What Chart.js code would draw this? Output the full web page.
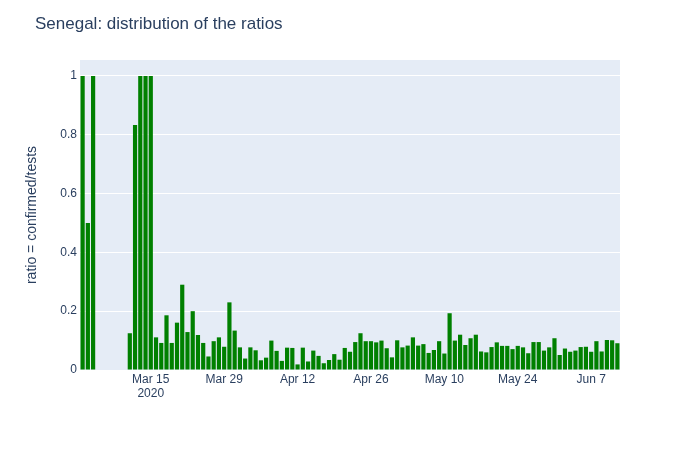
<!DOCTYPE html>
<html>
<head>
<meta charset="utf-8">
<script src="https://cdn.jsdelivr.net/npm/chart.js@4/dist/chart.umd.min.js"></script>
<style>
  html, body { margin: 0; padding: 0; background: #fff; }
  #wrap { width: 700px; height: 450px; }
</style>
</head>
<body>
<div id="wrap"><canvas id="ratioChart" width="700" height="450"></canvas></div>
<script>
// daily ratio confirmed/tests, Mar 2 .. Jun 12 2020 (null = no bar)
const startDate = "2020-03-02";
const marchRatios = [1, 0.5, 1, null, null, null, null, null, null,
  0.125, 0.833, 1, 1, 1,
  0.111, 0.092, 0.186, 0.092, 0.161, 0.29, 0.129, 0.2, 0.119, 0.092, 0.046, 0.098, 0.111, 0.079, 0.23, 0.134];
const aprilRatios = [0.077, 0.039, 0.077, 0.067, 0.033, 0.042, 0.1, 0.065, 0.031, 0.076,
  0.075, 0.019, 0.076, 0.029, 0.066, 0.048, 0.023, 0.034, 0.054, 0.035,
  0.075, 0.062, 0.095, 0.125, 0.098, 0.098, 0.094, 0.1, 0.074, 0.043];
const mayRatios = [0.101, 0.077, 0.083, 0.111, 0.083, 0.088, 0.058, 0.068, 0.098, 0.056,
  0.193, 0.1, 0.12, 0.085, 0.108, 0.12, 0.063, 0.06, 0.078, 0.094,
  0.082, 0.082, 0.071, 0.082, 0.077, 0.057, 0.095, 0.095, 0.066, 0.077, 0.108];
const juneRatios = [0.051, 0.073, 0.062, 0.066, 0.078, 0.079, 0.062, 0.098, 0.063, 0.102, 0.101, 0.091];

const tickLabels = ["Mar 15", "Mar 29", "Apr 12", "Apr 26", "May 10", "May 24", "Jun 7"];
const yTicks = [0, 0.2, 0.4, 0.6, 0.8, 1];

const ratios = marchRatios.concat(aprilRatios, mayRatios, juneRatios);
const monthNames = ["Jan", "Feb", "Mar", "Apr", "May", "Jun", "Jul", "Aug", "Sep", "Oct", "Nov", "Dec"];
const dayLabels = ratios.map((v, i) => {
  const d = new Date(startDate + "T00:00:00Z");
  d.setUTCDate(d.getUTCDate() + i);
  return monthNames[d.getUTCMonth()] + " " + d.getUTCDate();
});

const textColor = "#2a3f5f";
const font = "'Liberation Sans', Arial, sans-serif";

// plotly-like title in the top left corner
const titlePlugin = {
  id: "plotTitle",
  afterDraw(chart) {
    const ctx = chart.ctx;
    ctx.save();
    ctx.font = "17px " + font;
    ctx.fillStyle = textColor;
    ctx.textBaseline = "middle";
    ctx.fillText("Senegal: distribution of the ratios", 35, 24);
    ctx.restore();
  }
};

const plotBg = {
  id: "plotBg",
  beforeDraw(chart) {
    const { ctx, chartArea: a } = chart;
    ctx.save();
    ctx.fillStyle = "#e5ecf6";
    ctx.fillRect(a.left, a.top, a.right - a.left, a.bottom - a.top);
    ctx.restore();
  }
};

new Chart(document.getElementById("ratioChart"), {
  type: "bar",
  data: {
    labels: dayLabels,
    datasets: [{
      data: ratios,
      backgroundColor: "#008000",
      borderWidth: 0,
      categoryPercentage: 0.8,
      barPercentage: 1,
    }],
  },
  options: {
    responsive: false,
    animation: false,
    devicePixelRatio: 1,
    layout: { padding: { top: 60, right: 80, bottom: 20, left: 0 } },
    plugins: {
      legend: { display: false },
      tooltip: { enabled: false },
    },
    scales: {
      x: {
        offset: true,
        grid: { display: false, drawTicks: false },
        border: { display: false },
        afterFit(scale) { scale.height = 60; },
        ticks: {
          autoSkip: false,
          maxRotation: 0,
          minRotation: 0,
          padding: 2,
          color: textColor,
          font: { family: font, size: 12 },
          callback(value) {
            const lab = this.getLabelForValue(value);
            if (!tickLabels.includes(lab)) return null;
            return lab === tickLabels[0] ? [lab, "2020"] : lab;
          },
        },
      },
      y: {
        min: 0,
        max: 1.054,
        afterFit(scale) { scale.width = 80; },
        afterBuildTicks(scale) { scale.ticks = yTicks.map(v => ({ value: v })); },
        grid: { color: "#ffffff", lineWidth: 1, drawTicks: false },
        border: { display: false },
        ticks: {
          padding: 3,
          color: textColor,
          font: { family: font, size: 12 },
          callback: v => String(v),
        },
        title: {
          display: true,
          text: "ratio = confirmed/tests",
          color: textColor,
          font: { family: font, size: 14 },
          padding: { top: 24, bottom: 0 },
        },
      },
    },
  },
  plugins: [plotBg, titlePlugin],
});
</script>
</body>
</html>
